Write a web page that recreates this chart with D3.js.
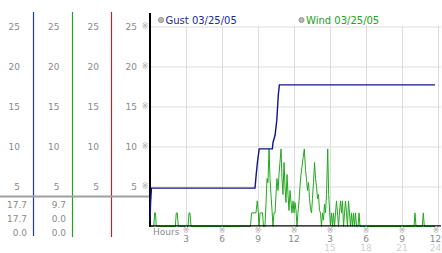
<!DOCTYPE html>
<html>
<head>
<meta charset="utf-8">
<script src="https://cdn.jsdelivr.net/npm/d3@7"></script>
<style>
  body { margin: 0; background: #fff; }
  svg { display: block; font-family: "DejaVu Sans", Verdana, sans-serif; }
</style>
</head>
<body>
<div id="chart"></div>
<script>
// gust and wind, 03/25/05, hours after midnight
var gustHours = [0, 0.05, 0.12, 8.75, 8.85, 8.95, 9.1, 10.2, 10.25, 10.42, 10.56, 10.6, 10.69, 10.78, 23.75];
var gustValues = [0.7, 3, 4.8, 4.8, 6.5, 8.0, 9.7, 9.7, 10.5, 11.4, 13.2, 14.1, 16.4, 17.7, 17.7];

var windHours = [0, 0.31, 0.39, 0.46, 0.52, 2.11, 2.19, 2.27, 2.36, 3.17, 3.25, 3.33, 3.42,
  8.375, 8.46, 8.83, 8.94, 9.03, 9.08, 9.17, 9.375, 9.46, 9.58, 9.67, 9.75, 9.83, 9.92,
  10.0, 10.08, 10.17, 10.25, 10.33, 10.42, 10.5, 10.58, 10.67, 10.75, 10.83, 10.92,
  11.0, 11.08, 11.17, 11.25, 11.33, 11.42, 11.5, 11.58, 11.67, 11.75, 11.83, 11.92,
  12.0, 12.08, 12.17, 12.25, 12.33, 12.42, 12.5, 12.58, 12.67, 12.75, 12.86, 12.96,
  13.04, 13.125, 13.21, 13.29, 13.375, 13.46, 13.54, 13.625, 13.71, 13.79, 13.875, 13.96,
  14.04, 14.125, 14.21, 14.29, 14.375, 14.46, 14.54, 14.625, 14.71, 14.81, 14.89, 14.975,
  15.04, 15.125, 15.21, 15.29, 15.375, 15.46, 15.54, 15.625, 15.71, 15.79, 15.875, 15.96,
  16.04, 16.125, 16.21, 16.29, 16.375, 16.46, 16.54, 16.625, 16.71, 16.79, 16.875, 16.96,
  17.04, 17.125, 17.21, 17.33, 17.42, 17.5, 22.0, 22.08, 22.17, 22.69, 22.775, 22.86, 23.75];
var windValues = [0, 0, 1.7, 1.7, 0, 0, 1.7, 1.7, 0, 0, 1.7, 1.7, 0,
  0, 1.7, 1.7, 3.2, 1.7, 0, 1.7, 1.7, 0, 0, 3, 6, 5.5, 9.7,
  6, 4, 2, 0, 1.7, 1.7, 4, 6, 4.5, 6.5, 8, 9.7,
  6, 4, 8, 5, 3, 6.5, 4, 2, 4.5, 3, 1.7, 3.2,
  1.7, 3, 2, 0, 1.7, 3.2, 5, 6.5, 7.5, 8.5, 9.7, 7,
  6, 4.5, 5.5, 3.5, 2.2, 1.7, 3.5, 5.5, 8, 6, 5, 3.5,
  4, 2, 1.7, 0, 1.7, 0.8, 2.8, 1.7, 4, 9.7, 4, 1.7,
  0, 1.7, 0, 1.7, 0, 1.7, 3.2, 1.7, 0, 1.7, 3.2, 1.7,
  3.2, 0, 1.7, 3.2, 1.7, 0, 3.2, 1.7, 0, 1.7, 0, 1.7,
  0, 1.7, 0, 0, 1.7, 0, 0, 1.7, 0, 0, 1.7, 0, 0];

var yTicks = [5, 10, 15, 20, 25];
var hourTicks = [3, 6, 9, 12, 15, 18, 21, 24];
var clockLabels = ["3", "6", "9", "12", "3", "6", "9", "12"];
var pmLabels = ["", "", "", "", "15", "18", "21", "24"];

// left panel: scale copies and current / max / min readouts
var panelColors = ["#1f3c9c", "#22a022", "#b02a2a"];
var panelLineX = [33, 72, 111];
var panelLabelX = [20, 59.5, 99, 137];
var gustReadout = ["17.7", "17.7", "0.0"];
var windReadout = ["9.7", "0.0", "0.0"];

var W = 442, H = 253;
var svg = d3.select("#chart").append("svg").attr("width", W).attr("height", H);

var x = d3.scaleLinear().domain([0, 24]).range([150, 438]);
var y = d3.scaleLinear().domain([0, 25]).range([226.5, 26.5]);

// grid
svg.append("g").attr("transform", "translate(0," + y(0) + ")")
  .call(d3.axisBottom(x).tickValues(hourTicks).tickSize(-(y(0) - y(25)) - 1).tickFormat(""))
  .call(function(g) { g.select(".domain").remove(); })
  .selectAll("line").attr("stroke", "#dcdcdc");
svg.append("g").attr("transform", "translate(150,0)")
  .call(d3.axisLeft(y).tickValues(yTicks).tickSize(-(441 - 150)).tickFormat(""))
  .call(function(g) { g.select(".domain").remove(); })
  .selectAll("line").attr("stroke", "#dcdcdc");

// left panel scale labels
panelLabelX.forEach(function(px) {
  svg.append("g").attr("transform", "translate(" + px + ",0)")
    .call(d3.axisLeft(y).tickValues(yTicks).tickSize(0).tickPadding(0))
    .call(function(g) { g.select(".domain").remove(); })
    .selectAll("text").attr("fill", "#8a8a8a").style("font-size", "9px")
    .style("font-family", "DejaVu Sans");
});

// small marks next to the y values
svg.selectAll(".ymark").data(yTicks).enter().append("text")
  .attr("x", 145).attr("y", function(d) { return y(d); }).attr("dy", "0.35em")
  .attr("text-anchor", "middle").attr("fill", "#a8a8a8").style("font-size", "8px")
  .text("\u203B");

// coloured panel lines
panelLineX.forEach(function(px, i) {
  svg.append("line").attr("x1", px + 0.5).attr("x2", px + 0.5)
    .attr("y1", 12).attr("y2", i == 0 ? 236 : 237)
    .attr("stroke", panelColors[i]).attr("stroke-width", 1.2);
});

// cursor line
svg.append("line").attr("x1", 0).attr("x2", 150).attr("y1", 196.5).attr("y2", 196.5)
  .attr("stroke", "#a0a0a0").attr("stroke-width", 2);

// readouts
[[gustReadout, 27], [windReadout, 66]].forEach(function(r) {
  svg.selectAll(null).data(r[0]).enter().append("text")
    .attr("x", r[1]).attr("y", function(d, i) { return 205 + i * 13.7; }).attr("dy", "0.35em")
    .attr("text-anchor", "end").attr("fill", "#8a8a8a").style("font-size", "9px")
    .text(function(d) { return d; });
});

// lines
var line = d3.line().x(function(d) { return x(d[0]); }).y(function(d) { return y(d[1]); });
var windData = d3.zip(windHours, windValues);
var gustData = d3.zip(gustHours, gustValues);
svg.append("path").datum(windData).attr("d", line)
  .attr("fill", "none").attr("stroke", "#22a81e").attr("stroke-width", 1);

// axes
svg.append("line").attr("x1", 150).attr("x2", 441).attr("y1", 225.8).attr("y2", 225.8)
  .attr("stroke", "#000").attr("stroke-width", 1.3);
svg.append("line").attr("x1", 150).attr("x2", 150).attr("y1", 13).attr("y2", 227)
  .attr("stroke", "#000").attr("stroke-width", 2);

svg.append("path").datum(gustData).attr("d", line)
  .attr("fill", "none").attr("stroke", "#12128a").attr("stroke-width", 1.4);

// x labels
svg.selectAll(".xmark").data(hourTicks).enter().append("text")
  .attr("x", function(d) { return Math.min(x(d), 436); }).attr("y", 230.5)
  .attr("text-anchor", "middle").attr("fill", "#a8a8a8").style("font-size", "8px")
  .attr("dy", "0.35em").text("\u203B");
svg.selectAll(".xlab").data(hourTicks).enter().append("text")
  .attr("x", function(d) { return Math.min(x(d), 435.5); }).attr("y", 242)
  .attr("text-anchor", "middle").attr("fill", "#8a8a8a").style("font-size", "9px")
  .text(function(d, i) { return clockLabels[i]; });
svg.selectAll(".xlab2").data(hourTicks).enter().append("text")
  .attr("x", function(d) { return Math.min(x(d), 435.5); }).attr("y", 250.5)
  .attr("text-anchor", "middle").attr("fill", "#cfcfcf").style("font-size", "9px")
  .text(function(d, i) { return pmLabels[i]; });
svg.append("text").attr("x", 153).attr("y", 234.5).attr("fill", "#8a8a8a")
  .style("font-size", "9px").text("Hours");

// legend
var legend = [["Gust 03/25/05", "#1a2a9c", 161], ["Wind 03/25/05", "#22a01e", 301.5]];
legend.forEach(function(l) {
  svg.append("circle").attr("cx", l[2]).attr("cy", 20).attr("r", 2.6)
    .attr("fill", "#b8b8b8").attr("stroke", "#8c8c8c").attr("stroke-width", 0.8);
  svg.append("text").attr("x", l[2] + 4.5).attr("y", 23.8).attr("fill", l[1])
    .style("font-size", "10px").text(l[0]);
});
</script>
</body>
</html>
